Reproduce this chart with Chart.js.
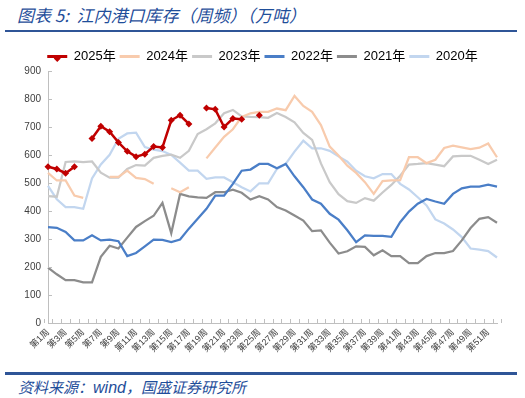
<!DOCTYPE html>
<html>
<head>
<meta charset="utf-8">
<script src="https://cdn.jsdelivr.net/npm/chart.js@4"></script>
<style>
  html, body { margin: 0; padding: 0; background: #fff; }
  body { width: 525px; height: 398px; position: relative; overflow: hidden;
         font-family: "Liberation Sans", "Noto Sans CJK SC", sans-serif; }
  .title { position: absolute; left: 17px; top: 2px; font-size: 17px; font-style: italic;
           color: #1F4E9A; white-space: nowrap; font-family: "Noto Sans CJK SC", sans-serif; }
  .rule { position: absolute; left: 5px; width: 512px; height: 2.5px; background: #2F5597; }
  .source { position: absolute; left: 18px; top: 376px; font-size: 15px; font-style: italic;
            color: #1F4E9A; white-space: nowrap; font-family: "Noto Sans CJK SC", sans-serif; }
  .source b { font-family: "Liberation Sans", sans-serif; font-weight: normal; font-size: 16px; }
  #wrap { position: absolute; left: 0; top: 36px; width: 525px; height: 336px; }
</style>
</head>
<body>
<div class="title">图表 5:&nbsp; 江内港口库存（周频）（万吨）</div>
<div class="rule" style="top:29.5px"></div>
<div id="wrap"><canvas id="chart"></canvas></div>
<div class="rule" style="top:372px"></div>
<div class="source">资料来源：<b>wind</b>，国盛证券研究所</div>

<script>
// weekly port inventory, 10k tonnes; null = no reading that week
const weeks = [
    "第1周", "第2周", "第3周", "第4周", "第5周", "第6周", "第7周", "第8周", "第9周", "第10周",
    "第11周", "第12周", "第13周", "第14周", "第15周", "第16周", "第17周", "第18周", "第19周", "第20周",
    "第21周", "第22周", "第23周", "第24周", "第25周", "第26周", "第27周", "第28周", "第29周", "第30周",
    "第31周", "第32周", "第33周", "第34周", "第35周", "第36周", "第37周", "第38周", "第39周", "第40周",
    "第41周", "第42周", "第43周", "第44周", "第45周", "第46周", "第47周", "第48周", "第49周", "第50周",
    "第51周", "第52周",
];

const y2025 = [558, 550, 535, 558, null, 659, 703, 683, 645, 613, 594, 603, 630, 627, 724, 742, 711, null,
    768, 763, 700, 730, 728, null, 742];
const y2024 = [536, 509, 509, 455, 447, null, null, 522, 522, 544, 518, 514, 497, null, 481, 467, 485, null,
    588, 627, 665, 692, 736, 749, 754, 754, 766, 760, 811, 775, 754, 707, 630, 598, 562, 536, 503, 461,
    507, 509, 510, 592, 592, 571, 583, 625, 633, 627, 621, 626, 641, 592];
const y2023 = [453, 451, 575, 577, 575, 577, 537, 519, 519, 550, 564, 562, 590, 597, 601, 590, 615, 675,
    692, 713, 749, 761, 738, 736, 735, 733, 750, 736, 717, 679, 654, 570, 503, 460, 435, 429, 446, 437,
    466, 493, 526, 566, 568, 571, 566, 560, 595, 597, 597, 583, 568, 583];
const y2022 = [342, 340, 325, 295, 295, 313, 295, 298, 292, 239, 250, 274, 298, 297, 289, 298, 337, 372,
    408, 455, 455, 497, 544, 548, 568, 568, 553, 568, 524, 485, 441, 426, 390, 369, 331, 289, 313, 311,
    311, 308, 360, 398, 426, 443, 434, 426, 461, 481, 487, 487, 494, 487];
const y2021 = [198, 174, 153, 153, 145, 145, 236, 276, 266, 305, 343, 364, 383, 429, 321, 461, 452, 449,
    447, 467, 467, 476, 465, 441, 453, 441, 414, 402, 384, 366, 328, 331, 287, 248, 256, 274, 272, 242,
    260, 239, 239, 214, 214, 239, 250, 250, 257, 295, 339, 372, 378, 358];
const y2020 = [490, 442, 414, 414, 408, 516, 566, 601, 658, 677, 680, 628, 619, 614, 600, 573, 544, 544,
    515, 520, 520, 503, 485, 470, 499, 499, 550, 568, 612, 651, 624, 624, 615, 595, 576, 544, 524, 517,
    532, 532, 497, 477, 449, 420, 370, 355, 334, 307, 266, 262, 257, 234];

const yTicks = [0, 100, 200, 300, 400, 500, 600, 700, 800, 900];

const FONT = "'Liberation Sans', 'Noto Sans CJK SC', sans-serif";
const AXIS = "#BFBFBF";

function line(label, data, color, extra) {
    return Object.assign({
        label,
        data,
        borderColor: color,
        backgroundColor: color,
        borderWidth: 2.25,
        pointRadius: 0,
        tension: 0,
        spanGaps: false,
    }, extra || {});
}

// the legend in the original sits centred on the page, not on the axis box
const nudgeLegend = {
    id: "nudgeLegend",
    afterLayout(chart) {
        const lg = chart.legend, dx = 14, dy = 2;
        lg.left += dx; lg.right += dx;
        lg.top += dy; lg.bottom += dy;
        lg.legendHitBoxes.forEach((b) => { b.left += dx; b.top += dy; });
    },
};

// Excel style: short tick marks pointing into the plot, and a diamond on the 2025 legend swatch
const insideTicks = {
    id: "insideTicks",
    afterDatasetsDraw(chart) {
        const { ctx, chartArea, scales } = chart;
        const x = scales.x, y = scales.y;
        ctx.save();
        ctx.strokeStyle = AXIS;
        ctx.lineWidth = 1;
        ctx.beginPath();
        yTicks.forEach((v) => {
            const py = Math.round(y.getPixelForValue(v)) + 0.5;
            ctx.moveTo(chartArea.left, py);
            ctx.lineTo(chartArea.left + 4, py);
        });
        const half = (x.getPixelForValue(1) - x.getPixelForValue(0)) / 2;
        for (let i = 0; i <= weeks.length; i++) {
            const px = Math.round(x.getPixelForValue(i) - half) + 0.5;
            ctx.moveTo(px, chartArea.bottom);
            ctx.lineTo(px, chartArea.bottom - 4);
        }
        ctx.stroke();

        const box = chart.legend.legendHitBoxes[0];
        if (box) {
            const cx = box.left + 10, cy = box.top + box.height / 2, r = 3.5;
            ctx.fillStyle = "#C00000";
            ctx.beginPath();
            ctx.moveTo(cx, cy - r);
            ctx.lineTo(cx + r, cy);
            ctx.lineTo(cx, cy + r);
            ctx.lineTo(cx - r, cy);
            ctx.closePath();
            ctx.fill();
        }
        ctx.restore();
    },
};

new Chart(document.getElementById("chart"), {
    type: "line",
    data: {
        labels: weeks,
        datasets: [
            line("2025年", y2025, "#C00000", {
                borderWidth: 2.5,
                pointRadius: 3.5,
                pointStyle: "rectRot",
                pointBorderWidth: 0,
            }),
            line("2024年", y2024, "#F8CBAD"),
            line("2023年", y2023, "#C9C9C9"),
            line("2022年", y2022, "#4A7EC7"),
            line("2021年", y2021, "#8C8C8C"),
            line("2020年", y2020, "#C2D6EF"),
        ],
    },
    options: {
        responsive: true,
        maintainAspectRatio: false,
        animation: false,
        layout: { padding: { left: 0, right: 28, top: 8, bottom: 0 } },
        plugins: {
            tooltip: { enabled: false },
            legend: {
                position: "top",
                labels: {
                    boxWidth: 20,
                    boxHeight: 3,
                    padding: 4,
                    color: "#000",
                    font: { family: FONT, size: 13 },
                    generateLabels(chart) {
                        return Chart.defaults.plugins.legend.labels.generateLabels(chart)
                            .map((l) => Object.assign(l, { lineWidth: 0 }));
                    },
                },
            },
        },
        scales: {
            x: {
                grid: { display: false, drawTicks: false },
                border: { color: AXIS, width: 1 },
                afterFit(scale) { scale.height = 49; },
                ticks: {
                    autoSkip: false,
                    maxRotation: 45,
                    minRotation: 45,
                    padding: 4,
                    color: "#404040",
                    font: { family: FONT, size: 9 },
                    callback(value, index) {
                        return index % 2 === 0 ? weeks[index] : "";
                    },
                },
            },
            y: {
                min: 0,
                max: 900,
                grid: { display: false, drawTicks: false },
                border: { color: AXIS, width: 1 },
                afterFit(scale) { scale.width = 48; },
                ticks: {
                    stepSize: 100,
                    padding: 7,
                    color: "#404040",
                    font: { family: FONT, size: 10 },
                },
            },
        },
    },
    plugins: [nudgeLegend, insideTicks],
});
</script>
</body>
</html>
